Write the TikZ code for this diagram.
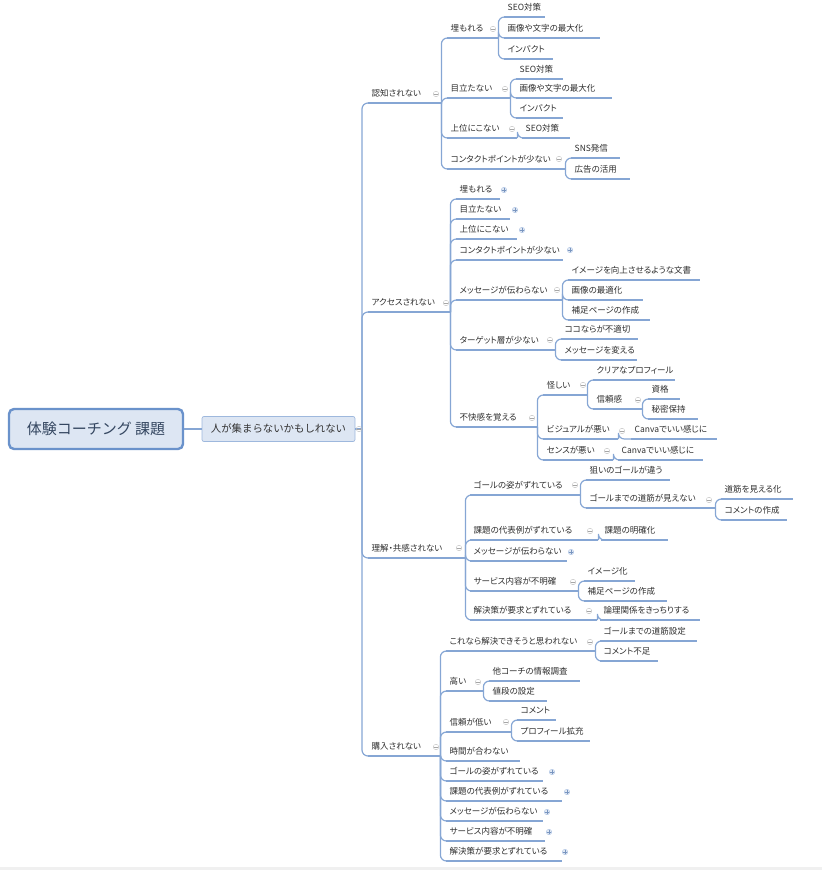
\documentclass[tikz,border=0pt]{standalone}
\usepackage{fontspec}
\setmainfont{Noto Sans CJK JP}
\newfontfamily\topicfont{Noto Sans CJK JP}[RawFeature=+palt]
\definecolor{branch}{RGB}{134,166,212}
\definecolor{rootfill}{RGB}{221,230,243}
\definecolor{rootline}{RGB}{106,146,203}
\definecolor{rootink}{RGB}{52,70,96}
\begin{document}
\begin{tikzpicture}[x=1pt,y=-1pt]
  \tikzstyle{root_style} = [draw=rootline, line width=2.4pt, fill=rootfill, rounded corners=5pt, minimum width=174pt, minimum height=40pt, text=rootink, font=\fontsize{15}{17}\selectfont]
  \tikzstyle{issue_style} = [draw=branch!80, line width=.7pt, fill=rootfill, rounded corners=2pt, minimum width=153pt, minimum height=25pt, inner xsep=2pt, text=black!80, font=\fontsize{10.4}{12}\selectfont]
  \tikzstyle{topic} = [anchor=south west, inner xsep=3.5pt, inner ysep=3pt, text height=7.5pt, text depth=3pt, align=left, text=black!82, font=\topicfont\fontsize{8.5}{9}\selectfont]
  \tikzstyle{edge_style} = [draw=branch, line width=1.2pt]
  \tikzstyle{fold_style} = [circle, draw=black!25, line width=.4pt, minimum size=5.5pt, inner sep=0pt, path picture={\draw[black!35, line width=.5pt] ([xshift=-1.6pt]path picture bounding box.center) -- ([xshift=1.6pt]path picture bounding box.center);}]
  \tikzstyle{unfold_style} = [circle, draw=branch!70, fill=branch!25, line width=.4pt, minimum size=5.5pt, inner sep=0pt, path picture={\draw[branch!90!black, line width=.5pt] ([xshift=-1.6pt]path picture bounding box.center) -- ([xshift=1.6pt]path picture bounding box.center) ([yshift=-1.6pt]path picture bounding box.center) -- ([yshift=1.6pt]path picture bounding box.center);}]
  \useasboundingbox (0,0) rectangle (822,870);
  \fill[black!6] (0,867) rectangle (822,870);

  \node[root_style] (root) at (96,429) {体験コーチング 課題};
  \node[issue_style] (issue) at (278.5,429) {人が集まらないかもしれない};
  \coordinate (j0) at (362,429);

  \node[topic, text width=66pt] (n1) at (368,103) {認知されない};
  \node[topic, text width=75pt] (n2) at (368,312) {アクセスされない};
  \node[topic, text width=90pt] (n3) at (368,558) {理解・共感されない};
  \node[topic, text width=65pt] (n4) at (368,756) {購入されない};

  \node[topic, text width=44pt] (n11) at (447,38) {埋もれる};
  \node[topic, text width=34pt] (n111) at (504,17) {SEO対策};
  \node[topic, text width=89pt] (n112) at (504,38) {画像や文字の最大化};
  \node[topic, text width=42pt] (n113) at (504,59) {インパクト};
  \node[topic, text width=56pt] (n12) at (447,98) {目立たない};
  \node[topic, text width=40pt] (n121) at (516,79) {SEO対策};
  \node[topic, text width=89pt] (n122) at (516,98) {画像や文字の最大化};
  \node[topic, text width=40pt] (n123) at (516,118) {インパクト};
  \node[topic, text width=63pt] (n13) at (447,138) {上位にこない};
  \node[topic, text width=41pt] (n131) at (522,138) {SEO対策};
  \node[topic, text width=111pt] (n14) at (447,169) {コンタクトポイントが少ない};
  \node[topic, text width=42pt] (n141) at (571,158) {SNS発信};
  \node[topic, text width=52pt] (n142) at (571,179) {広告の活用};

  \node[topic, text width=37pt] (n21) at (456,199) {埋もれる};
  \node[topic, text width=47pt] (n22) at (456,219) {目立たない};
  \node[topic, text width=54pt] (n23) at (456,239) {上位にこない};
  \node[topic, text width=100pt] (n24) at (456,260) {コンタクトポイントが少ない};
  \node[topic, text width=99pt] (n25) at (456,300) {メッセージが伝わらない};
  \node[topic, text width=125pt] (n251) at (568,280) {イメージを向上させるような文書};
  \node[topic, text width=68pt] (n252) at (568,300) {画像の最適化};
  \node[topic, text width=75pt] (n253) at (568,320) {補足ページの作成};
  \node[topic, text width=92pt] (n26) at (456,350) {ターゲット層が少ない};
  \node[topic, text width=70pt] (n261) at (561,339) {ココならが不適切};
  \node[topic, text width=69pt] (n262) at (561,360) {メッセージを変える};
  \node[topic, text width=74pt] (n27) at (456,427) {不快感を覚える};
  \node[topic, text width=37pt] (n271) at (543,395) {怪しい};
  \node[topic, text width=75pt] (n2711) at (593,380) {クリアなプロフィール};
  \node[topic, text width=42pt] (n2712) at (593,409) {信頼感};
  \node[topic, text width=25pt] (n27121) at (648,399) {資格};
  \node[topic, text width=43pt] (n27122) at (648,419) {秘密保持};
  \node[topic, text width=68pt] (n272) at (543,439) {ビジュアルが悪い};
  \node[topic, text width=79pt] (n2721) at (631,439) {Canvaでいい感じに};
  \node[topic, text width=63pt] (n273) at (543,460) {センスが悪い};
  \node[topic, text width=78pt] (n2731) at (618,460) {Canvaでいい感じに};

  \node[topic, text width=103pt] (n31) at (470,495) {ゴールの姿がずれている};
  \node[topic, text width=77pt] (n311) at (586,480) {狙いのゴールが違う};
  \node[topic, text width=122pt] (n312) at (586,508) {ゴールまでの道筋が見えない};
  \node[topic, text width=65pt] (n3121) at (721,499) {道筋を見える化};
  \node[topic, text width=59pt] (n3122) at (721,520) {コメントの作成};
  \node[topic, text width=121pt] (n32) at (470,540) {課題の代表例がずれている};
  \node[topic, text width=60pt] (n321) at (601,540) {課題の明確化};
  \node[topic, text width=90pt] (n33) at (470,561) {メッセージが伝わらない};
  \node[topic, text width=101pt] (n34) at (470,591) {サービス内容が不明確};
  \node[topic, text width=44pt] (n341) at (584,581) {イメージ化};
  \node[topic, text width=76pt] (n342) at (584,601) {補足ページの作成};
  \node[topic, text width=120pt] (n35) at (470,620) {解決策が要求とずれている};
  \node[topic, text width=93pt] (n351) at (600,620) {論理関係をきっちりする};

  \node[topic, text width=142pt] (n41) at (446,651) {これなら解決できそうと思われない};
  \node[topic, text width=90pt] (n411) at (600,641) {ゴールまでの道筋設定};
  \node[topic, text width=51pt] (n412) at (600,661) {コメント不足};
  \node[topic, text width=30pt] (n42) at (446,691) {高い};
  \node[topic, text width=84pt] (n421) at (489,681) {他コーチの情報調査};
  \node[topic, text width=51pt] (n422) at (489,701) {値段の設定};
  \node[topic, text width=58pt] (n43) at (446,732) {信頼が低い};
  \node[topic, text width=32pt] (n431) at (517,720) {コメント};
  \node[topic, text width=66pt] (n432) at (517,741) {プロフィール拡充};
  \node[topic, text width=67pt] (n44) at (446,761) {時間が合わない};
  \node[topic, text width=90pt] (n45) at (446,781) {ゴールの姿がずれている};
  \node[topic, text width=109pt] (n46) at (446,801) {課題の代表例がずれている};
  \node[topic, text width=90pt] (n47) at (446,821) {メッセージが伝わらない};
  \node[topic, text width=92pt] (n48) at (446,841) {サービス内容が不明確};
  \node[topic, text width=109pt] (n49) at (446,861) {解決策が要求とずれている};

  \draw[edge_style] (root) -- (issue);
  \draw[edge_style] (issue.east) -- (j0);
  \foreach \c in {n1,n2,n3,n4}
    \draw[edge_style, rounded corners=6pt] (j0) |- (\c.south west);
  \foreach \p/\c in {n1/n11,n1/n12,n1/n13,n1/n14,n11/n111,n11/n112,n11/n113,n12/n121,n12/n122,n12/n123,n13/n131,n14/n141,n14/n142,
      n2/n21,n2/n22,n2/n23,n2/n24,n2/n25,n2/n26,n2/n27,n25/n251,n25/n252,n25/n253,n26/n261,n26/n262,n27/n271,n27/n272,n27/n273,n271/n2711,n271/n2712,n2712/n27121,n2712/n27122,n272/n2721,n273/n2731,
      n3/n31,n3/n32,n3/n33,n3/n34,n3/n35,n31/n311,n31/n312,n312/n3121,n312/n3122,n32/n321,n34/n341,n34/n342,n35/n351,
      n4/n41,n4/n42,n4/n43,n4/n44,n4/n45,n4/n46,n4/n47,n4/n48,n4/n49,n41/n411,n41/n412,n42/n421,n42/n422,n43/n431,n43/n432}
    \draw[edge_style, rounded corners=6pt] (\p.south east) |- (\c.south west);
  \foreach \n in {n1,n2,n3,n4,n11,n111,n112,n113,n12,n121,n122,n123,n13,n131,n14,n141,n142,
      n21,n22,n23,n24,n25,n251,n252,n253,n26,n261,n262,n27,n271,n2711,n2712,n27121,n27122,n272,n2721,n273,n2731,
      n31,n311,n312,n3121,n3122,n32,n321,n33,n34,n341,n342,n35,n351,
      n41,n411,n412,n42,n421,n422,n43,n431,n432,n44,n45,n46,n47,n48,n49}
    \draw[edge_style] (\n.south west) -- (\n.south east);

  \node[fold_style] (m0) at (359,429) {};
  \node[fold_style] (m1) at (436,94) {};
  \node[fold_style] (m11) at (493,29) {};
  \node[fold_style] (m12) at (505,89) {};
  \node[fold_style] (m13) at (512,129) {};
  \node[fold_style] (m14) at (559,159) {};
  \node[fold_style] (m2) at (446,303) {};
  \node[unfold_style] (m21) at (504,190) {};
  \node[unfold_style] (m22) at (515,210) {};
  \node[unfold_style] (m23) at (522,230) {};
  \node[unfold_style] (m24) at (570,250) {};
  \node[fold_style] (m25) at (557,290) {};
  \node[fold_style] (m26) at (550,340) {};
  \node[fold_style] (m27) at (532,418) {};
  \node[fold_style] (m271) at (583,385) {};
  \node[fold_style] (m2712) at (638,400) {};
  \node[fold_style] (m272) at (622,431) {};
  \node[fold_style] (m273) at (607,451) {};
  \node[fold_style] (m3) at (459,548) {};
  \node[fold_style] (m31) at (575,485) {};
  \node[fold_style] (m312) at (709,500) {};
  \node[fold_style] (m32) at (590,531) {};
  \node[unfold_style] (m33) at (571,552) {};
  \node[fold_style] (m34) at (573,582) {};
  \node[fold_style] (m35) at (589,611) {};
  \node[fold_style] (m4) at (436,747) {};
  \node[fold_style] (m41) at (590,642) {};
  \node[fold_style] (m42) at (478,682) {};
  \node[fold_style] (m43) at (506,722) {};
  \node[unfold_style] (m45) at (552,772) {};
  \node[unfold_style] (m46) at (567,792) {};
  \node[unfold_style] (m47) at (547,812) {};
  \node[unfold_style] (m48) at (549,832) {};
  \node[unfold_style] (m49) at (565,852) {};
\end{tikzpicture}
\end{document}
